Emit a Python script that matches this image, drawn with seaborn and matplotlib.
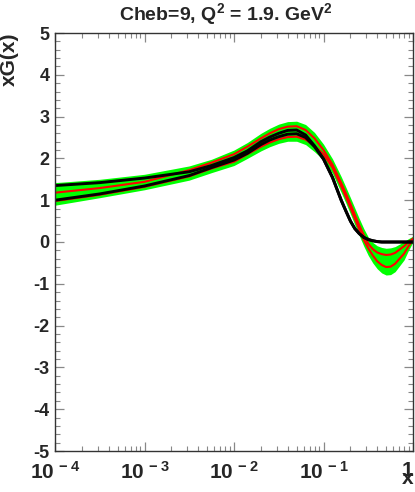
import numpy as np
import pandas as pd
import matplotlib
matplotlib.use('Agg')
import matplotlib.pyplot as plt
import matplotlib.ticker as mticker
import seaborn as sns

# x grid and curves, values of xG(x)
x_pts = [1e-4, 3.16e-4, 1e-3, 3.16e-3, 5.62e-3, 0.01, 0.0141, 0.02, 0.0251, 0.0316,
         0.0398, 0.0501, 0.0631, 0.0794, 0.1, 0.126, 0.158, 0.178, 0.2, 0.224,
         0.251, 0.282, 0.316, 0.355, 0.398, 0.447, 0.501, 0.562, 0.631, 0.794,
         0.891, 1.0]

band_hi = [1.42, 1.50, 1.62, 1.82, 1.98, 2.20, 2.38, 2.60, 2.72, 2.82,
           2.88, 2.89, 2.81, 2.62, 2.34, 1.99, 1.56, 1.31, 1.06, 0.81,
           0.56, 0.32, 0.12, -0.01, -0.09, -0.13, -0.15, -0.14, -0.11, 0.01,
           0.08, 0.14]
band_lo = [0.88, 1.06, 1.25, 1.48, 1.66, 1.83, 2.00, 2.18, 2.28, 2.36,
           2.41, 2.41, 2.33, 2.16, 1.96, 1.64, 1.18, 0.93, 0.67, 0.41,
           0.15, -0.10, -0.32, -0.50, -0.64, -0.74, -0.79, -0.78, -0.71, -0.43,
           -0.20, 0.00]

red_hi = [1.18, 1.29, 1.44, 1.72, 1.90, 2.10, 2.28, 2.48, 2.60, 2.70,
          2.76, 2.77, 2.68, 2.48, 2.20, 1.85, 1.41, 1.16, 0.91, 0.65,
          0.40, 0.16, -0.04, -0.17, -0.25, -0.29, -0.31, -0.30, -0.26, -0.10,
          0.00, 0.08]
red_lo = [0.98, 1.13, 1.32, 1.57, 1.76, 1.92, 2.10, 2.28, 2.38, 2.46,
          2.51, 2.52, 2.45, 2.30, 2.10, 1.78, 1.33, 1.08, 0.82, 0.56,
          0.30, 0.05, -0.15, -0.32, -0.46, -0.55, -0.60, -0.59, -0.52, -0.28,
          -0.10, 0.05]

black_a = [1.35, 1.42, 1.53, 1.68, 1.83, 2.02, 2.18, 2.40, 2.51, 2.60,
           2.67, 2.68, 2.56, 2.30, 1.99, 1.55, 1.00, 0.74, 0.50, 0.32,
           0.20, 0.11, 0.06, 0.03, 0.01, 0.00, 0.00, 0.00, 0.00, 0.00,
           0.00, 0.00]
black_b = [1.00, 1.15, 1.34, 1.59, 1.78, 1.96, 2.12, 2.33, 2.44, 2.52,
           2.58, 2.59, 2.50, 2.28, 1.98, 1.54, 0.99, 0.74, 0.50, 0.32,
           0.20, 0.11, 0.06, 0.03, 0.01, 0.00, 0.00, 0.00, 0.00, 0.00,
           0.00, 0.00]

xtick_vals = [1e-4, 1e-3, 1e-2, 1e-1, 1]
xtick_labels = ['10$^{\\,-4}$', '10$^{\\,-3}$', '10$^{\\,-2}$', '10$^{\\,-1}$', '1']
ytick_vals = [-5, -4, -3, -2, -1, 0, 1, 2, 3, 4, 5]

sns.set_theme(style='ticks')
plt.rcParams['font.family'] = ['Liberation Sans', 'DejaVu Sans']
plt.rcParams['mathtext.fontset'] = 'custom'
plt.rcParams['mathtext.rm'] = 'Liberation Sans:bold'
plt.rcParams['mathtext.bf'] = 'Liberation Sans:bold'
plt.rcParams['mathtext.default'] = 'bf'
plt.rcParams['axes.unicode_minus'] = False

fig = plt.figure(figsize=(4.15, 4.92), dpi=100)
ax = fig.add_axes([55/415, 41/492, 358/415, 418/492])

df = pd.DataFrame({'x': x_pts, 'band_hi': band_hi, 'band_lo': band_lo,
                   'red_hi': red_hi, 'red_lo': red_lo,
                   'black_a': black_a, 'black_b': black_b})

ax.fill_between(df['x'], df['band_lo'], df['band_hi'], color='#00ff00', lw=0)
for col in ['red_hi', 'red_lo']:
    sns.lineplot(data=df, x='x', y=col, ax=ax, color='#ff0000', lw=1.5,
                 estimator=None, sort=False)
for col in ['black_b', 'black_a']:
    sns.lineplot(data=df, x='x', y=col, ax=ax, color='black', lw=2.1,
                 estimator=None, sort=False)

ax.set_xscale('log')
ax.set_xlim(1e-4, 1)
ax.set_ylim(-5, 5)

ax.set_xticks(xtick_vals)
ax.set_xticklabels(xtick_labels, fontsize=15, fontweight='bold')
ax.get_xticklabels()[-1].set_horizontalalignment('right')
ax.xaxis.set_minor_locator(mticker.LogLocator(base=10, subs=np.arange(2, 10)))
ax.xaxis.set_minor_formatter(mticker.NullFormatter())
ax.set_yticks(ytick_vals)
ax.set_yticklabels([str(v) for v in ytick_vals], fontsize=13, fontweight='bold')
ax.yaxis.set_minor_locator(mticker.MultipleLocator(0.2))

ax.tick_params(which='both', direction='in', top=True, right=True, color='#888888')
ax.tick_params(which='major', length=6.5, width=0.9)
ax.tick_params(which='minor', length=3.5, width=0.8)
ax.tick_params(axis='y', pad=4)
ax.tick_params(axis='x', pad=7)
for sp in ax.spines.values():
    sp.set_color('#333333')
    sp.set_linewidth(1.0)

ax.set_xlabel('x', fontsize=15, fontweight='bold')
ax.xaxis.set_label_coords(1.0, -0.08)
ax.xaxis.label.set_horizontalalignment('right')
ax.xaxis.label.set_verticalalignment('baseline')
ax.set_ylabel('xG(x)', fontsize=15, fontweight='bold')
ax.yaxis.set_label_coords(-0.1, 1.0)
ax.yaxis.label.set_horizontalalignment('right')

fig.text(226/415, 1 - 20/492, 'Cheb=9, Q$^{2}$ = 1.9. GeV$^{2}$', ha='center',
         va='baseline', fontsize=14, fontweight='bold')

fig.savefig('out.png', dpi=100, facecolor='white')
